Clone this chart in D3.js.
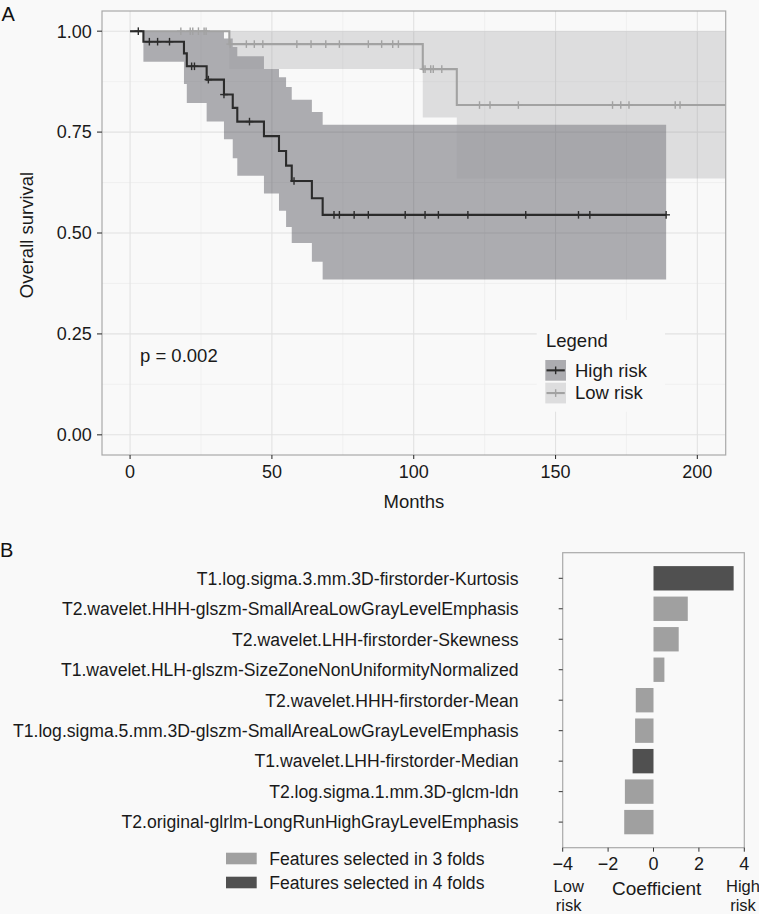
<!DOCTYPE html>
<html>
<head>
<meta charset="utf-8">
<script src="https://cdn.jsdelivr.net/npm/d3@7"></script>
<style>
  html, body { margin: 0; padding: 0; background: #f9f9f9; }
  svg { display: block; }
  text { font-family: "Liberation Sans", Arial, Helvetica, sans-serif; }
</style>
</head>
<body>
<script>
// ---------------- Panel A data (Kaplan-Meier) ----------------
const highTimes  = [0, 4.7, 19.0, 20.0, 27.0, 33.1, 36.2, 37.8, 47.2, 52.5, 55.0, 57.0, 64.1, 67.9];
const highSurv   = [1.0, 0.974, 0.945, 0.913, 0.880, 0.843, 0.810, 0.776, 0.740, 0.703, 0.667, 0.629, 0.586, 0.545];
const highUpper  = [1.0, 1.0, 1.0, 1.0, 1.0, 0.982, 0.961, 0.938, 0.906, 0.886, 0.862, 0.830, 0.800, 0.768];
const highLower  = [1.0, 0.924, 0.869, 0.822, 0.776, 0.732, 0.685, 0.642, 0.598, 0.555, 0.515, 0.475, 0.429, 0.385];
const highEnd    = 189.0;
const highCensor = [2.9, 6.8, 9.7, 13.9, 21.7, 22.7, 27.6, 33.1, 42.1, 57.8, 71.9, 73.8, 79.0, 84.0, 97.0, 104.0, 108.7, 119.1, 139.5, 158.1, 162.1, 189.0];

const lowTimes   = [0, 35.0, 103.2, 115.2];
const lowSurv    = [1.0, 0.968, 0.906, 0.817];
const lowUpper   = [1.0, 1.0, 1.0, 1.0];
const lowLower   = [1.0, 0.906, 0.786, 0.635];
const lowEnd     = 210;
const lowCensor  = [17.9, 21.2, 22.1, 24.1, 26.1, 26.8, 35.3, 41.0, 43.8, 46.8, 58.8, 63.8, 69.0, 73.8, 84.0, 88.7, 92.6, 94.6, 103.4, 104.0, 106.0, 106.9, 109.9, 123.2, 126.9, 136.9, 170.1, 173.0, 175.9, 192.2, 193.9];

const xTicksA = [0, 50, 100, 150, 200];
const xMinorA = [25, 75, 125, 175];
const yTicksA = [0, 0.25, 0.5, 0.75, 1.0];
const yTickLabelsA = ["0.00", "0.25", "0.50", "0.75", "1.00"];
const yMinorA = [0.125, 0.375, 0.625, 0.875];
const pText = "p = 0.002";
const legendTitle = "Legend";
const groupNames = ["High risk", "Low risk"];

// ---------------- Panel B data (coefficients) ----------------
const features = [
  "T1.log.sigma.3.mm.3D-firstorder-Kurtosis",
  "T2.wavelet.HHH-glszm-SmallAreaLowGrayLevelEmphasis",
  "T2.wavelet.LHH-firstorder-Skewness",
  "T1.wavelet.HLH-glszm-SizeZoneNonUniformityNormalized",
  "T2.wavelet.HHH-firstorder-Mean",
  "T1.log.sigma.5.mm.3D-glszm-SmallAreaLowGrayLevelEmphasis",
  "T1.wavelet.LHH-firstorder-Median",
  "T2.log.sigma.1.mm.3D-glcm-ldn",
  "T2.original-glrlm-LongRunHighGrayLevelEmphasis"
];
const coefficients = [3.53, 1.51, 1.11, 0.48, -0.78, -0.81, -0.92, -1.26, -1.29];
const folds        = [4, 3, 3, 3, 3, 3, 4, 3, 3];
const xTicksB = [-4, -2, 0, 2, 4];
const foldLegend = ["Features selected in 3 folds", "Features selected in 4 folds"];

// ---------------- Drawing ----------------
const W = 759, H = 914;
const svg = d3.select("body").append("svg").attr("width", W).attr("height", H);
svg.append("rect").attr("width", W).attr("height", H).attr("fill", "#f9f9f9");

const BG = "#f9f9f9";
const textCol = "#1a1a1a";

// ---- Panel A ----
const A = { left: 102, right: 725.7, top: 11, bottom: 455 };
const x = d3.scaleLinear().domain([-9.9, 210]).range([A.left, A.right]);
const y = d3.scaleLinear().domain([-0.05, 1.05]).range([A.bottom, A.top]);

const gA = svg.append("g");
gA.append("rect").attr("x", A.left).attr("y", A.top)
  .attr("width", A.right - A.left).attr("height", A.bottom - A.top).attr("fill", BG);

// grid
gA.selectAll(".vminor").data(xMinorA).join("line")
  .attr("x1", d => x(d)).attr("x2", d => x(d)).attr("y1", A.top).attr("y2", A.bottom)
  .attr("stroke", "#ececec").attr("stroke-width", 0.7);
gA.selectAll(".hminor").data(yMinorA).join("line")
  .attr("y1", d => y(d)).attr("y2", d => y(d)).attr("x1", A.left).attr("x2", A.right)
  .attr("stroke", "#ececec").attr("stroke-width", 0.7);
gA.selectAll(".vmajor").data(xTicksA).join("line")
  .attr("x1", d => x(d)).attr("x2", d => x(d)).attr("y1", A.top).attr("y2", A.bottom)
  .attr("stroke", "#e2e2e2").attr("stroke-width", 1.1);
gA.selectAll(".hmajor").data(yTicksA).join("line")
  .attr("y1", d => y(d)).attr("y2", d => y(d)).attr("x1", A.left).attr("x2", A.right)
  .attr("stroke", "#e2e2e2").attr("stroke-width", 1.1);

function mk(times, vals, end) {
  const pts = times.map((t, i) => ({ t, v: vals[i] }));
  pts.push({ t: end, v: vals[vals.length - 1] });
  return pts;
}
function bandPts(times, lo, hi, end) {
  const pts = times.map((t, i) => ({ t, lo: lo[i], hi: hi[i] }));
  pts.push({ t: end, lo: lo[lo.length - 1], hi: hi[hi.length - 1] });
  return pts;
}
function stepVal(times, vals, t) {
  let v = vals[0];
  for (let i = 0; i < times.length; i++) if (times[i] <= t) v = vals[i];
  return v;
}

const band = d3.area().curve(d3.curveStepAfter)
  .x(d => x(d.t)).y0(d => y(d.lo)).y1(d => y(d.hi));
const line = d3.line().curve(d3.curveStepAfter).x(d => x(d.t)).y(d => y(d.v));

const highCol = "#2b2b2b", lowCol = "#a2a2a2";
const highBandFill = "#3a3a44", highBandOp = 0.4;
const lowBandFill = "#9a9aa0", lowBandOp = 0.3;

gA.append("path").datum(bandPts(highTimes, highLower, highUpper, highEnd))
  .attr("d", band).attr("fill", highBandFill).attr("fill-opacity", highBandOp);
gA.append("path").datum(bandPts(lowTimes, lowLower, lowUpper, lowEnd))
  .attr("d", band).attr("fill", lowBandFill).attr("fill-opacity", lowBandOp);

function drawCurve(times, vals, end, censor, col) {
  gA.append("path").datum(mk(times, vals, end)).attr("d", line)
    .attr("fill", "none").attr("stroke", col).attr("stroke-width", 2.1);
  gA.selectAll(null).data(censor).join("line")
    .attr("x1", d => x(d)).attr("x2", d => x(d))
    .attr("y1", d => y(stepVal(times, vals, d)) - 3.8)
    .attr("y2", d => y(stepVal(times, vals, d)) + 3.8)
    .attr("stroke", col).attr("stroke-width", 1.4);
  // horizontal arm of "+" at censor
  gA.selectAll(null).data(censor).join("line")
    .attr("x1", d => x(d) - 3.8).attr("x2", d => x(d) + 3.8)
    .attr("y1", d => y(stepVal(times, vals, d)))
    .attr("y2", d => y(stepVal(times, vals, d)))
    .attr("stroke", col).attr("stroke-width", 1.4);
}
drawCurve(lowTimes, lowSurv, lowEnd, lowCensor, lowCol);
drawCurve(highTimes, highSurv, highEnd, highCensor, highCol);

// p-value
gA.append("text").attr("x", 140).attr("y", 361.8).attr("font-size", 18.5)
  .attr("fill", textCol).text(pText);

// legend
const lg = gA.append("g");
lg.append("rect").attr("x", 536.7).attr("y", 320).attr("width", 128.3).attr("height", 91.7).attr("fill", BG);
lg.append("text").attr("x", 546).attr("y", 346.6).attr("font-size", 18.5).attr("fill", textCol).text(legendTitle);
const keyCols = [
  { fill: highBandFill, op: highBandOp, line: highCol },
  { fill: lowBandFill, op: lowBandOp, line: lowCol }
];
groupNames.forEach((nm, i) => {
  const ky = 360 + i * 22.7;
  lg.append("rect").attr("x", 545.3).attr("y", ky).attr("width", 20.7).attr("height", 20.7)
    .attr("fill", keyCols[i].fill).attr("fill-opacity", keyCols[i].op);
  lg.append("line").attr("x1", 546.5).attr("x2", 564.8).attr("y1", ky + 10.35).attr("y2", ky + 10.35)
    .attr("stroke", keyCols[i].line).attr("stroke-width", 2.1);
  lg.append("line").attr("x1", 555.65).attr("x2", 555.65).attr("y1", ky + 6.5).attr("y2", ky + 14.2)
    .attr("stroke", keyCols[i].line).attr("stroke-width", 1.4);
  lg.append("text").attr("x", 575).attr("y", ky + 16.6).attr("font-size", 18.5).attr("fill", textCol).text(nm);
});

// border
gA.append("rect").attr("x", A.left).attr("y", A.top)
  .attr("width", A.right - A.left).attr("height", A.bottom - A.top)
  .attr("fill", "none").attr("stroke", "#a9a9a9").attr("stroke-width", 1.2);

// axes A
const axL = gA.append("g");
yTicksA.forEach((v, i) => {
  axL.append("line").attr("x1", A.left - 5).attr("x2", A.left).attr("y1", y(v)).attr("y2", y(v))
    .attr("stroke", "#333").attr("stroke-width", 1.1);
  axL.append("text").attr("x", 91.7).attr("y", y(v) + 6.4).attr("text-anchor", "end")
    .attr("font-size", 18).attr("fill", textCol).text(yTickLabelsA[i]);
});
xTicksA.forEach(v => {
  axL.append("line").attr("x1", x(v)).attr("x2", x(v)).attr("y1", A.bottom).attr("y2", A.bottom + 4)
    .attr("stroke", "#333").attr("stroke-width", 1.1);
  axL.append("text").attr("x", x(v)).attr("y", 478.2).attr("text-anchor", "middle")
    .attr("font-size", 18).attr("fill", textCol).text(String(v));
});
gA.append("text").attr("x", (A.left + A.right) / 2).attr("y", 508.3).attr("text-anchor", "middle")
  .attr("font-size", 18.5).attr("fill", textCol).text("Months");
gA.append("text").attr("transform", "translate(33,235) rotate(-90)").attr("text-anchor", "middle")
  .attr("font-size", 18.5).attr("fill", textCol).text("Overall survival");

svg.append("text").attr("x", 1.5).attr("y", 21).attr("font-size", 20).attr("fill", "#111").text("A");
svg.append("text").attr("x", 0).attr("y", 556.7).attr("font-size", 20).attr("fill", "#111").text("B");

// ---- Panel B ----
const B = { left: 562.7, right: 744.3, top: 552.7, bottom: 847.7 };
const xb = d3.scaleLinear().domain([-4, 4]).range([B.left, B.right]);
const yb = d3.scaleBand().domain(features).range([B.top, B.bottom]).paddingInner(0.2).paddingOuter(0.44);
const foldColor = d3.scaleOrdinal().domain([3, 4]).range(["#a0a0a0", "#505050"]);

const gB = svg.append("g");
gB.append("rect").attr("x", B.left).attr("y", B.top).attr("width", B.right - B.left)
  .attr("height", B.bottom - B.top).attr("fill", BG);
gB.selectAll(".bar").data(features).join("rect")
  .attr("x", (d, i) => xb(Math.min(0, coefficients[i])))
  .attr("width", (d, i) => Math.abs(xb(coefficients[i]) - xb(0)))
  .attr("y", d => yb(d)).attr("height", yb.bandwidth())
  .attr("fill", (d, i) => foldColor(folds[i]));
gB.append("rect").attr("x", B.left).attr("y", B.top).attr("width", B.right - B.left)
  .attr("height", B.bottom - B.top).attr("fill", "none").attr("stroke", "#a9a9a9").attr("stroke-width", 1.2);

features.forEach(f => {
  const cy = yb(f) + yb.bandwidth() / 2;
  gB.append("line").attr("x1", B.left - 4).attr("x2", B.left).attr("y1", cy).attr("y2", cy)
    .attr("stroke", "#333").attr("stroke-width", 1);
  gB.append("text").attr("x", 518.5).attr("y", cy + 6.3).attr("text-anchor", "end")
    .attr("font-size", 17.6).attr("fill", textCol).text(f);
});
xTicksB.forEach(v => {
  gB.append("line").attr("x1", xb(v)).attr("x2", xb(v)).attr("y1", B.bottom).attr("y2", B.bottom + 4)
    .attr("stroke", "#333").attr("stroke-width", 1);
  gB.append("text").attr("x", xb(v)).attr("y", 869.5).attr("text-anchor", "middle")
    .attr("font-size", 18).attr("fill", textCol).text(v < 0 ? "\u2212" + Math.abs(v) : String(v));
});
gB.append("text").attr("x", 656.7).attr("y", 894.5).attr("text-anchor", "middle")
  .attr("font-size", 19).attr("fill", textCol).text("Coefficient");
[["Low", "risk", 568.7], ["High", "risk", 743]].forEach(([a, b, cx]) => {
  gB.append("text").attr("x", cx).attr("y", 891.7).attr("text-anchor", "middle")
    .attr("font-size", 16.5).attr("fill", textCol).text(a);
  gB.append("text").attr("x", cx).attr("y", 910.7).attr("text-anchor", "middle")
    .attr("font-size", 16.5).attr("fill", textCol).text(b);
});

// legend B
[3, 4].forEach((f, i) => {
  const ky = 852.7 + i * 24;
  gB.append("rect").attr("x", 226).attr("y", ky).attr("width", 30.7).attr("height", 11.6).attr("fill", foldColor(f));
  gB.append("text").attr("x", 269.3).attr("y", ky + 12.6).attr("font-size", 17.6).attr("fill", textCol).text(foldLegend[i]);
});
</script>
</body>
</html>
